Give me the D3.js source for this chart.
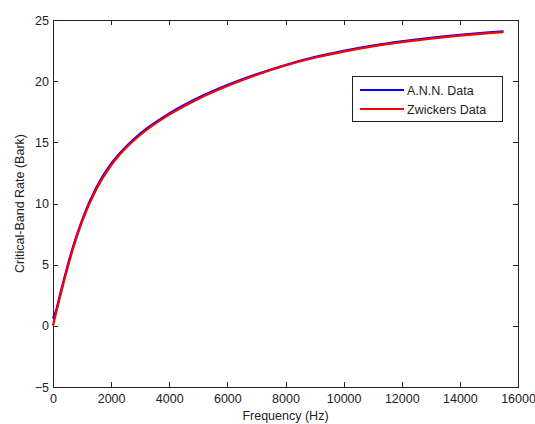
<!DOCTYPE html>
<html><head><meta charset="utf-8">
<script src="https://cdn.jsdelivr.net/npm/d3@7"></script>
<style>
body{margin:0;background:#fff;}
text{font-family:"Liberation Sans",Arial,sans-serif;fill:#222;}
</style></head>
<body><svg id="c" width="535" height="424"></svg>
<script>
const frequencies = [0,100,200,300,400,500,700,1000,1500,2000,2500,3000,4000,5000,6000,7000,8000,9000,10000,11000,12000,13000,14000,15000,15500];
const annData = [0.6,1.2,2.15,3.1,4.0,4.9,6.55,8.65,11.35,13.25,14.62,15.72,17.36,18.64,19.68,20.56,21.32,21.96,22.48,22.91,23.26,23.55,23.79,23.99,24.08];
const zwickerData = [0,0.99,1.96,2.92,3.85,4.74,6.39,8.51,11.2,13.11,14.51,15.6,17.26,18.55,19.6,20.51,21.28,21.91,22.42,22.85,23.19,23.48,23.72,23.92,24.01];
const xTicks = [0,2000,4000,6000,8000,10000,12000,14000,16000];
const yTicks = [-5,0,5,10,15,20,25];
const seriesNames = ["A.N.N. Data","Zwickers Data"];
const seriesColors = ["#0000ff","#ff0000"];

const svg = d3.select("#c");
const L=53, R=518, T=20, B=387;
const x = d3.scaleLinear().domain([0,16000]).range([L,R]);
const y = d3.scaleLinear().domain([-5,25]).range([B,T]);

const g = svg.append("g");
// axes box
g.append("rect").attr("x",L).attr("y",T).attr("width",R-L).attr("height",B-T)
 .attr("fill","none").attr("stroke","#222").attr("stroke-width",1).attr("shape-rendering","crispEdges");

const xa = g.append("g").attr("transform",`translate(0,${B})`)
 .call(d3.axisBottom(x).tickValues(xTicks).tickSize(-5).tickPadding(7).tickFormat(d3.format("d")));
const xaTop = g.append("g").attr("transform",`translate(0,${T})`)
 .call(d3.axisTop(x).tickValues(xTicks).tickSize(-5).tickFormat(""));
const ya = g.append("g").attr("transform",`translate(${L},0)`)
 .call(d3.axisLeft(y).tickValues(yTicks).tickSize(-5).tickPadding(4).tickFormat(d3.format("d")));
const yaR = g.append("g").attr("transform",`translate(${R},0)`)
 .call(d3.axisRight(y).tickValues(yTicks).tickSize(-5).tickFormat(""));
[xa,xaTop,ya,yaR].forEach(a=>{
  a.select(".domain").remove();
  a.selectAll("line").attr("stroke","#222").attr("shape-rendering","crispEdges");
  a.selectAll("text").attr("font-size","12.5px").attr("fill","#222")
   .attr("font-family","Liberation Sans, Arial, sans-serif");
});
xa.selectAll("text").attr("dy","0.71em");

// lines
const line = d3.line().x((d,i)=>x(frequencies[i])).y(d=>y(d)).curve(d3.curveMonotoneX);
[annData,zwickerData].forEach((s,k)=>{
  g.append("path").datum(s).attr("d",line).attr("fill","none")
   .attr("stroke",seriesColors[k]).attr("stroke-width",2.2);
});

// labels
svg.append("text").attr("x",(L+R)/2).attr("y",420).attr("text-anchor","middle")
 .attr("font-size","12.5px").text("Frequency (Hz)");
svg.append("text").attr("transform",`translate(24,${(T+B)/2}) rotate(-90)`).attr("text-anchor","middle")
 .attr("font-size","12.5px").text("Critical-Band Rate (Bark)");

// legend
const lg = svg.append("g");
lg.append("rect").attr("x",352.5).attr("y",76.5).attr("width",150).attr("height",45)
 .attr("fill","#fff").attr("stroke","#222").attr("stroke-width",1);
seriesNames.forEach((n,i)=>{
  const yy = 90 + i*19;
  lg.append("line").attr("x1",360).attr("x2",404).attr("y1",yy).attr("y2",yy)
   .attr("stroke",seriesColors[i]).attr("stroke-width",2.2);
  lg.append("text").attr("x",407).attr("y",yy+4.5).attr("font-size","12.5px").text(n);
});
</script></body></html>
